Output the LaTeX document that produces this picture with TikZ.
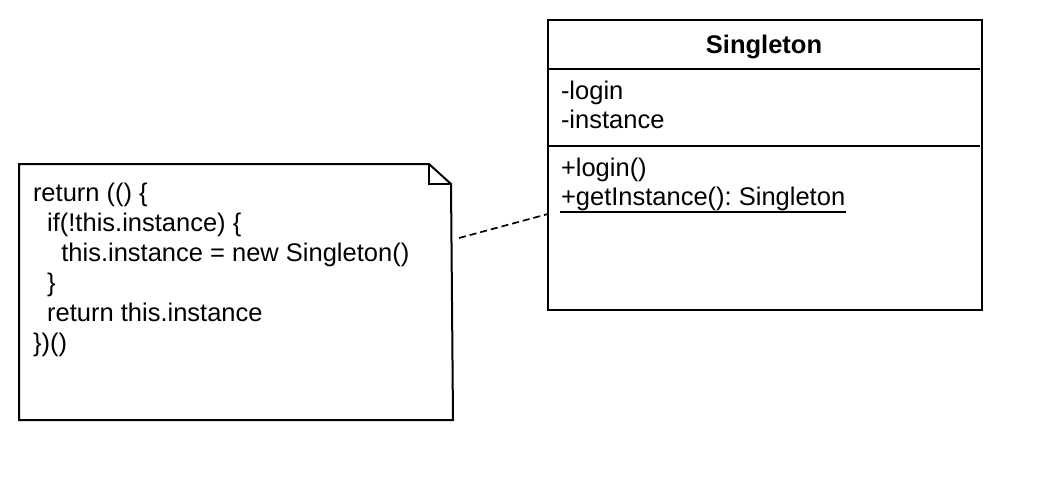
\documentclass[tikz,border=0pt]{standalone}
\usepackage{fontspec}
\setmainfont{Liberation Sans}
\frenchspacing
\begin{document}
\begin{tikzpicture}[x=1pt,y=-1pt,line width=2pt,
  txt/.style={anchor=base west,inner sep=0pt,font=\fontsize{25.5}{30}\selectfont},
  boxnode/.style={anchor=north west,inner sep=0pt,draw=none},
  dashedlink/.style={dash pattern=on 7pt off 4pt,line width=1.7pt}]
\useasboundingbox[fill=white] (0,0) rectangle (1060,500);
% class box
\node[boxnode,minimum width=432pt,minimum height=288pt] (cls) at (548,20) {};
\draw (cls.north west) rectangle (cls.south east);
\draw (548,69) -- (980,69);
\draw (548,146) -- (980,146);
\node[txt,anchor=base,font=\fontsize{25.5}{30}\selectfont\bfseries] (title) at (764,54) {Singleton};
\node[txt] (a1) at (560,100) {-login};
\node[txt] (a2) at (560,129) {-instance};
\node[txt] (m1) at (560,176) {+login()};
\node[txt] (m2) at (560,205) {+getInstance(): Singleton};
\draw[line width=1.7pt] ([yshift=-7pt]m2.base west) -- ([yshift=-7pt]m2.base east);
% note
\node[boxnode,minimum width=432pt,minimum height=254pt] (note) at (19,164) {};
\draw (note.north west) -- (429,164) -- (451,184) -- (note.south east) -- (note.south west) -- cycle;
\draw (429,164) -- (429,184) -- (451,184);
\node[txt] (l1) at (32,201) {return (() \{};
\node[txt] (l2) at (32,231) {\ \ if(!this.instance) \{};
\node[txt] (l3) at (32,261) {\ \ \ \ this.instance = new Singleton()};
\node[txt] (l4) at (32,291) {\ \ \}};
\node[txt] (l5) at (32,321) {\ \ return this.instance};
\node[txt] (l6) at (32,351) {\})()};
% link
\coordinate (ns) at (459,238);
\coordinate (ce) at (548,214);
\draw[dashedlink] (ns) -- (ce);
\end{tikzpicture}
\end{document}
